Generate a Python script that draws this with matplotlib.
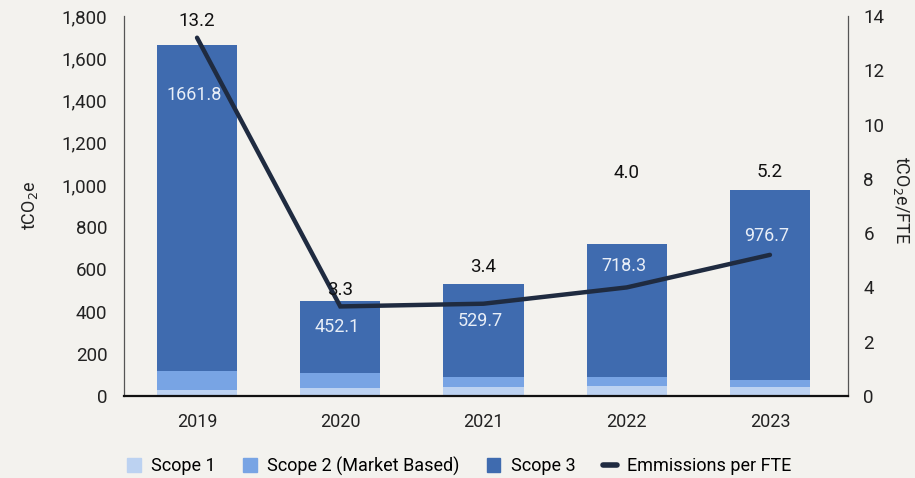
import numpy as np
import matplotlib
matplotlib.use("Agg")
import matplotlib.pyplot as plt
from matplotlib.lines import Line2D
from matplotlib.patches import Patch

plt.rcParams['font.family'] = ['Roboto', 'DejaVu Sans']

years = ["2019", "2020", "2021", "2022", "2023"]
totals = [1661.8, 452.1, 529.7, 718.3, 976.7]
scope1 = [29, 38, 43, 48, 43]
scope2 = [90, 72, 47, 42, 33]
scope3 = [t - a - b for t, a, b in zip(totals, scope1, scope2)]
per_fte = [13.2, 3.3, 3.4, 4.0, 5.2]

# where the value labels sit (left axis units for totals, right axis for per-FTE)
total_label_y = [1426, 327, 355, 616, 758]
fte_label_y = [13.8, 3.9, 4.75, 8.2, 8.27]

bg = "#f3f2ee"
c1 = "#bcd2f1"
c2 = "#78a4e4"
c3 = "#3f6baf"
cline = "#1f2b40"

fig = plt.figure(figsize=(9.15, 4.78), dpi=100, facecolor=bg)
ax = fig.add_axes([124/915, 1 - 396/478, 724/915, 380/478])
ax.set_facecolor(bg)
x = np.arange(len(years))
w = 0.56

ax.bar(x, scope1, w, color=c1, zorder=2)
ax.bar(x, scope2, w, bottom=scope1, color=c2, zorder=2)
ax.bar(x, scope3, w, bottom=np.add(scope1, scope2), color=c3, zorder=2)

for i in range(len(years)):
    ax.text(x[i] - 0.02, total_label_y[i], "%.1f" % totals[i], ha="center", va="center",
            color="#e8eef7", fontsize=13, zorder=5)

ax.set_xlim(-0.51, 4.545)
ax.set_ylim(0, 1800)
ax.set_yticks(np.arange(0, 1801, 200))
ax.set_yticklabels(["{:,}".format(v) for v in range(0, 1801, 200)])
ax.set_xticks(x)
ax.set_xticklabels(years)
ax.tick_params(axis="y", length=0, labelsize=13.5, pad=12, colors="#222222")
ax.tick_params(axis="x", length=0, labelsize=13, pad=12, colors="#222222")
ax.spines["top"].set_visible(False)
ax.spines["left"].set_color("#555555")
ax.spines["left"].set_linewidth(0.9)
ax.spines["right"].set_color("#555555")
ax.spines["right"].set_linewidth(0.9)
ax.spines["bottom"].set_color("#111111")
ax.spines["bottom"].set_linewidth(1.6)

ax2 = ax.twinx()
ax2.set_ylim(0, 14)
ax2.set_yticks(np.arange(0, 15, 2))
ax2.tick_params(axis="y", length=0, labelsize=13.5, pad=11, colors="#222222")
for s in ax2.spines.values():
    s.set_visible(False)
ax2.plot(x, per_fte, color=cline, lw=3.2, solid_capstyle="round",
         solid_joinstyle="miter", zorder=4)
for i in range(len(years)):
    ax2.text(x[i], fte_label_y[i], "%.1f" % per_fte[i], ha="center", va="center",
             color="#111111", fontsize=13.5, zorder=5)

fig.text(30/915, 1 - 205/478, "tCO$_2$e", rotation=90, ha="center", va="center",
         fontsize=13, color="#222222")
fig.text(901/915, 1 - 200/478, "tCO$_2$e/FTE", rotation=270, ha="center", va="center",
         fontsize=13, color="#222222")

handles = [Patch(color=c1), Patch(color=c2), Patch(color=c3),
           Line2D([0], [0], color=cline, lw=4, solid_capstyle="round")]
labels = ["Scope 1", "Scope 2 (Market Based)", "Scope 3", "Emmissions per FTE"]
fig.legend(handles, labels, loc="center", bbox_to_anchor=(0.502, 1 - 466/478), ncol=4,
           frameon=False, fontsize=13, handlelength=0.75, handleheight=0.75,
           columnspacing=1.5, handletextpad=0.6)
leg = fig.legends[0]
leg.legend_handles[3].set_linewidth(4)

fig.savefig("out.png", dpi=100, facecolor=bg)
